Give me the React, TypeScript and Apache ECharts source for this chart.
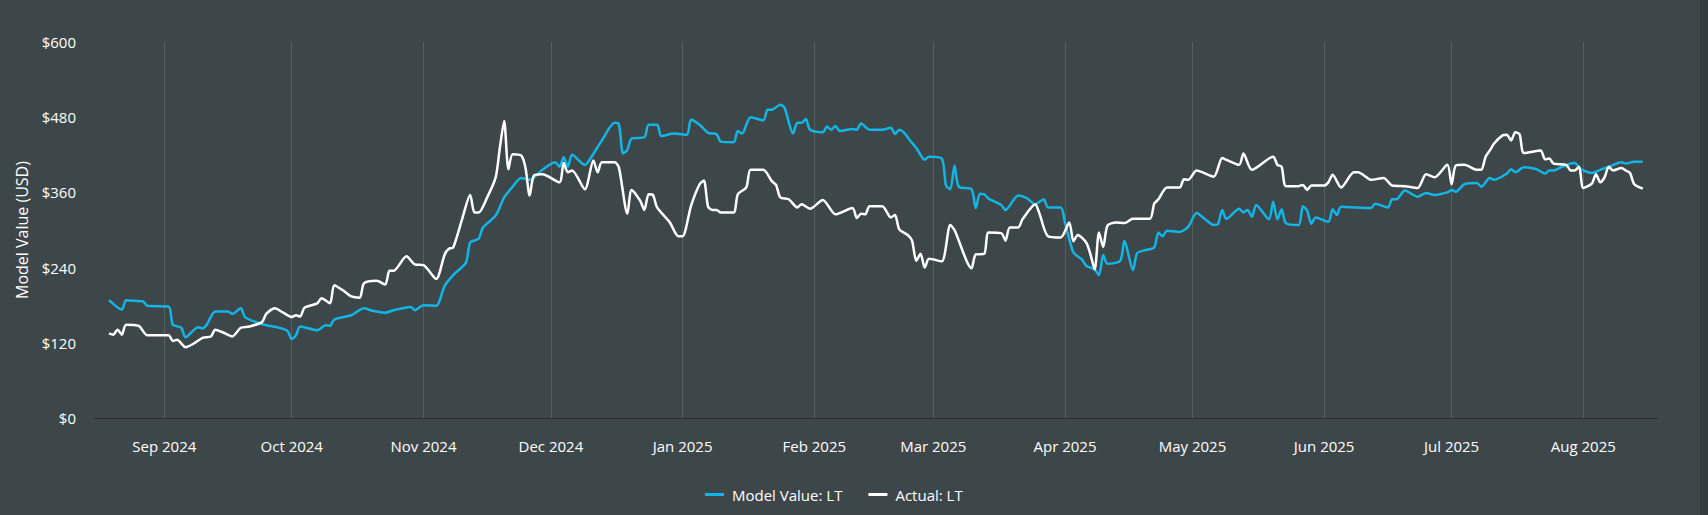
import React, { useEffect, useRef } from "react";
import * as echarts from "echarts";

const modelDates = [
  "2024-08-19","2024-08-22","2024-08-23","2024-08-25","2024-08-27","2024-08-28","2024-09-02","2024-09-03","2024-09-05","2024-09-06",
  "2024-09-09","2024-09-10","2024-09-11","2024-09-13","2024-09-16","2024-09-17","2024-09-19","2024-09-20","2024-09-23","2024-09-25",
  "2024-09-28","2024-09-30","2024-10-01","2024-10-02","2024-10-03","2024-10-07","2024-10-09","2024-10-10","2024-10-11","2024-10-15",
  "2024-10-18","2024-10-20","2024-10-23","2024-10-25","2024-10-29","2024-10-30","2024-11-01","2024-11-04","2024-11-06","2024-11-08",
  "2024-11-11","2024-11-12","2024-11-14","2024-11-15","2024-11-18","2024-11-20","2024-11-22","2024-11-24","2024-11-26","2024-11-29",
  "2024-12-02","2024-12-03","2024-12-04","2024-12-05","2024-12-06","2024-12-09","2024-12-10","2024-12-13","2024-12-16","2024-12-17",
  "2024-12-18","2024-12-19","2024-12-20","2024-12-23","2024-12-24","2024-12-26","2024-12-27","2024-12-30","2025-01-02","2025-01-03",
  "2025-01-05","2025-01-07","2025-01-09","2025-01-10","2025-01-13","2025-01-14","2025-01-15","2025-01-17","2025-01-20","2025-01-21",
  "2025-01-22","2025-01-24","2025-01-25","2025-01-27","2025-01-28","2025-01-29","2025-01-30","2025-01-31","2025-02-03","2025-02-04",
  "2025-02-05","2025-02-06","2025-02-07","2025-02-10","2025-02-11","2025-02-12","2025-02-14","2025-02-17","2025-02-19","2025-02-20",
  "2025-02-21","2025-02-22","2025-02-24","2025-02-25","2025-02-27","2025-02-28","2025-03-03","2025-03-04","2025-03-05","2025-03-06",
  "2025-03-07","2025-03-10","2025-03-11","2025-03-12","2025-03-13","2025-03-14","2025-03-17","2025-03-18","2025-03-21","2025-03-23",
  "2025-03-25","2025-03-27","2025-03-28","2025-03-31","2025-04-01","2025-04-03","2025-04-05","2025-04-06","2025-04-08","2025-04-09",
  "2025-04-10","2025-04-11","2025-04-14","2025-04-15","2025-04-17","2025-04-18","2025-04-20","2025-04-22","2025-04-23","2025-04-24",
  "2025-04-25","2025-04-28","2025-04-30","2025-05-02","2025-05-04","2025-05-06","2025-05-07","2025-05-08","2025-05-09","2025-05-12",
  "2025-05-13","2025-05-14","2025-05-15","2025-05-16","2025-05-19","2025-05-20","2025-05-21","2025-05-22","2025-05-23","2025-05-26",
  "2025-05-27","2025-05-28","2025-05-29","2025-05-30","2025-06-02","2025-06-03","2025-06-04","2025-06-05","2025-06-12","2025-06-13",
  "2025-06-16","2025-06-17","2025-06-18","2025-06-20","2025-06-23","2025-06-25","2025-06-27","2025-06-30","2025-07-01","2025-07-02",
  "2025-07-04","2025-07-07","2025-07-08","2025-07-10","2025-07-11","2025-07-14","2025-07-15","2025-07-16","2025-07-18","2025-07-21",
  "2025-07-23","2025-07-24","2025-07-25","2025-07-27","2025-07-28","2025-07-29","2025-07-30","2025-07-31","2025-08-01","2025-08-03",
  "2025-08-05","2025-08-07","2025-08-10","2025-08-11","2025-08-13","2025-08-15",
];
const modelValues = [
  188,173,188,187,186,179,178,149,144,129,
  145,143,149,170,170,166,175,161,152,148,
  144,139,126,132,146,140,148,147,157,164,
  175,171,168,172,177,172,180,179,211,228,
  248,280,286,304,323,352,369,383,380,396,
  408,401,416,401,420,404,411,443,471,469,
  422,428,446,448,468,468,450,454,452,476,
  468,455,453,441,440,458,454,480,475,492,
  492,500,495,454,471,471,477,460,456,465,
  460,466,458,461,460,470,460,460,463,453,
  460,456,439,431,412,417,414,371,365,403,
  369,365,335,358,357,350,340,332,355,351,
  341,349,336,336,312,264,253,243,237,228,
  260,246,251,283,236,263,268,272,296,290,
  299,297,305,327,317,308,309,332,318,334,
  328,332,321,340,317,345,317,333,311,308,
  338,331,310,320,313,333,324,337,335,342,
  336,349,349,363,353,359,356,360,364,361,
  373,375,369,383,380,390,397,392,400,397,
  390,395,395,401,403,406,407,400,395,391,
  396,401,408,406,409,409,
];

const actualDates = [
  "2024-08-19","2024-08-20","2024-08-21","2024-08-22","2024-08-23","2024-08-26","2024-08-28","2024-09-02","2024-09-03","2024-09-04",
  "2024-09-06","2024-09-08","2024-09-10","2024-09-12","2024-09-13","2024-09-15","2024-09-17","2024-09-19","2024-09-21","2024-09-24",
  "2024-09-25","2024-09-27","2024-09-29","2024-10-01","2024-10-02","2024-10-03","2024-10-04","2024-10-07","2024-10-08","2024-10-10",
  "2024-10-11","2024-10-13","2024-10-15","2024-10-17","2024-10-18","2024-10-21","2024-10-23","2024-10-24","2024-10-25","2024-10-28",
  "2024-10-30","2024-11-01","2024-11-04","2024-11-06","2024-11-07","2024-11-08","2024-11-10","2024-11-12","2024-11-13","2024-11-14",
  "2024-11-16","2024-11-18","2024-11-19","2024-11-20","2024-11-21","2024-11-22","2024-11-24","2024-11-25","2024-11-26","2024-11-27",
  "2024-11-29","2024-12-03","2024-12-04","2024-12-05","2024-12-06","2024-12-09","2024-12-11","2024-12-12","2024-12-13","2024-12-16",
  "2024-12-17","2024-12-19","2024-12-20","2024-12-22","2024-12-23","2024-12-24","2024-12-25","2024-12-26","2024-12-29","2024-12-31",
  "2025-01-01","2025-01-03","2025-01-05","2025-01-06","2025-01-07","2025-01-08","2025-01-09","2025-01-10","2025-01-13","2025-01-14",
  "2025-01-16","2025-01-17","2025-01-20","2025-01-22","2025-01-23","2025-01-24","2025-01-26","2025-01-28","2025-01-29","2025-01-31",
  "2025-02-03","2025-02-06","2025-02-10","2025-02-11","2025-02-12","2025-02-13","2025-02-14","2025-02-17","2025-02-19","2025-02-20",
  "2025-02-21","2025-02-23","2025-02-24","2025-02-25","2025-02-26","2025-02-27","2025-02-28","2025-03-03","2025-03-05","2025-03-06",
  "2025-03-10","2025-03-11","2025-03-13","2025-03-14","2025-03-17","2025-03-18","2025-03-19","2025-03-21","2025-03-22","2025-03-25",
  "2025-03-26","2025-03-28","2025-03-31","2025-04-02","2025-04-03","2025-04-04","2025-04-06","2025-04-07","2025-04-08","2025-04-09",
  "2025-04-10","2025-04-11","2025-04-13","2025-04-15","2025-04-17","2025-04-21","2025-04-22","2025-04-23","2025-04-25","2025-04-28",
  "2025-04-29","2025-04-30","2025-05-02","2025-05-06","2025-05-08","2025-05-09","2025-05-12","2025-05-13","2025-05-15","2025-05-20",
  "2025-05-21","2025-05-22","2025-05-23","2025-05-26","2025-05-27","2025-05-28","2025-05-29","2025-06-01","2025-06-02","2025-06-03",
  "2025-06-05","2025-06-08","2025-06-09","2025-06-11","2025-06-12","2025-06-15","2025-06-17","2025-06-20","2025-06-23","2025-06-25",
  "2025-06-27","2025-06-30","2025-07-01","2025-07-02","2025-07-04","2025-07-07","2025-07-08","2025-07-09","2025-07-10","2025-07-11",
  "2025-07-13","2025-07-14","2025-07-15","2025-07-16","2025-07-17","2025-07-18","2025-07-21","2025-07-22","2025-07-23","2025-07-24",
  "2025-07-25","2025-07-28","2025-07-29","2025-07-30","2025-07-31","2025-08-01","2025-08-03","2025-08-04","2025-08-05","2025-08-06",
  "2025-08-07","2025-08-08","2025-08-10","2025-08-11","2025-08-12","2025-08-13","2025-08-15",
];
const actualValues = [
  135,133,141,133,149,147,132,132,123,125,
  113,119,128,130,141,136,130,144,146,153,
  166,175,168,161,164,162,176,183,191,183,
  212,204,194,192,215,219,213,235,235,258,
  245,244,222,261,270,272,315,356,328,328,
  352,384,432,474,397,421,419,400,355,387,
  389,376,407,392,395,365,411,392,408,408,
  400,326,364,347,332,357,356,336,312,290,
  290,339,373,379,337,332,332,328,328,357,
  368,396,396,378,372,352,349,336,341,334,
  348,325,335,319,326,325,338,338,320,324,
  301,292,283,251,262,240,254,250,308,300,
  239,261,262,296,295,283,304,304,317,341,
  326,290,288,312,282,292,280,261,237,296,
  273,307,312,311,318,318,342,349,368,368,
  381,380,395,385,415,412,404,422,396,417,
  404,401,370,370,372,364,371,371,376,388,
  368,392,392,384,380,383,371,370,367,389,
  384,404,373,403,404,396,396,417,427,438,
  451,452,443,456,453,423,426,427,413,414,
  406,404,395,395,401,367,374,389,376,384,
  401,395,399,395,391,373,366,
];

const monthTicks = [
  "2024-09-01","2024-10-01","2024-11-01","2024-12-01","2025-01-01","2025-02-01",
  "2025-03-01","2025-04-01","2025-05-01","2025-06-01","2025-07-01","2025-08-01",
];
const monthNames = ["Jan","Feb","Mar","Apr","May","Jun","Jul","Aug","Sep","Oct","Nov","Dec"];
const axisStart = "2024-08-15T11:00:00";
const axisEnd = "2025-08-18T14:00:00";

function toTime(s: string): number {
  if (s.length > 10) return new Date(s).getTime();
  const [y, m, d] = s.split("-").map(Number);
  return new Date(y, m - 1, d).getTime();
}

const FONT = "'Open Sans', 'Noto Sans', sans-serif";

export default function App() {
  const ref = useRef<HTMLDivElement>(null);
  useEffect(() => {
    document.body.style.margin = "0";
    document.body.style.background = "#343c3e";
    if (!ref.current) return;
    const chart = echarts.init(ref.current, null, { renderer: "svg" });
    const ticks = monthTicks.map(toTime);
    chart.setOption({
      animation: false,
      backgroundColor: "#3d4749",
      textStyle: { fontFamily: FONT },
      grid: { left: 94, right: 42, top: 42, bottom: 97 },
      legend: {
        left: 700,
        top: 482,
        icon: "rect",
        itemWidth: 19,
        itemHeight: 3,
        itemGap: 26,
        textStyle: { color: "#ffffff", fontSize: 15, fontFamily: FONT, padding: [0, 0, 0, 3] },
        data: ["Model Value: LT", "Actual: LT"],
      },
      xAxis: {
        type: "value",
        min: toTime(axisStart),
        max: toTime(axisEnd),
        axisLine: { show: true, lineStyle: { color: "#2a3032", width: 1 } },
        axisTick: { show: false, customValues: ticks },
        splitLine: { show: true, lineStyle: { color: "#56605f", width: 1 } },
        axisLabel: {
          customValues: ticks,
          color: "#ffffff",
          fontSize: 15,
          fontFamily: FONT,
          margin: 20,
          formatter: (v: number) => {
            const d = new Date(v);
            return monthNames[d.getMonth()] + " " + d.getFullYear();
          },
        },
      },
      yAxis: {
        type: "value",
        min: 0,
        max: 600,
        interval: 120,
        name: "Model Value (USD)",
        nameLocation: "middle",
        nameGap: 64,
        nameRotate: 90,
        nameTextStyle: { color: "#ffffff", fontSize: 16, fontFamily: FONT },
        axisLine: { show: false },
        axisTick: { show: false },
        splitLine: { show: false },
        axisLabel: {
          color: "#ffffff",
          fontSize: 15,
          fontFamily: FONT,
          margin: 18,
          formatter: (v: number) => "$" + v,
        },
      },
      series: [
        {
          name: "Model Value: LT",
          type: "line",
          data: modelDates.map((d, i) => [toTime(d), modelValues[i]]),
          showSymbol: false,
          smooth: 0.25,
          lineStyle: { color: "#12b5e5", width: 2.5 },
          itemStyle: { color: "#12b5e5" },
          z: 2,
        },
        {
          name: "Actual: LT",
          type: "line",
          data: actualDates.map((d, i) => [toTime(d), actualValues[i]]),
          showSymbol: false,
          smooth: 0.25,
          lineStyle: { color: "#ffffff", width: 2.5 },
          itemStyle: { color: "#ffffff" },
          z: 3,
        },
      ],
    });
    return () => chart.dispose();
  }, []);
  return (
    <div style={{ width: 1708, height: 515, background: "#343c3e" }}>
      <div ref={ref} style={{ width: 1700, height: 515 }} />
    </div>
  );
}
